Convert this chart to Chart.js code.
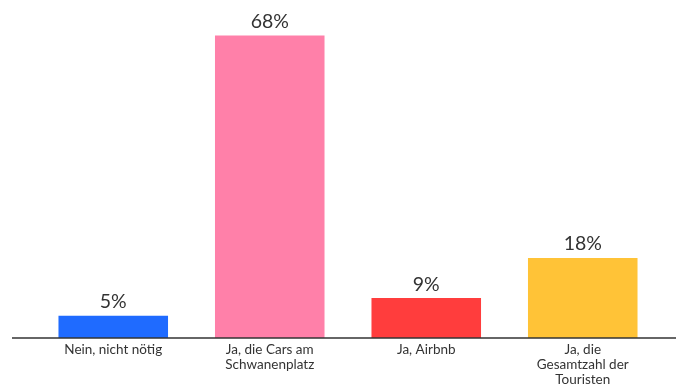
<!DOCTYPE html>
<html>
<head>
<meta charset="utf-8">
<script src="https://cdn.jsdelivr.net/npm/chart.js@4/dist/chart.umd.min.js"></script>
<style>
  body{margin:0;background:#fff;}
  #c{display:block;}
</style>
</head>
<body>
<canvas id="c" width="676" height="387"></canvas>
<script>
// data
const categories = [
  ["Nein, nicht nötig"],
  ["Ja, die Cars am", "Schwanenplatz"],
  ["Ja, Airbnb"],
  ["Ja, die", "Gesamtzahl der", "Touristen"]
];
const values = [5, 68, 9, 18];
const barColors = ["#1f6bff", "#ff80a9", "#ff3d3d", "#ffc337"];

// value labels above bars + long baseline
const valueLabels = {
  id: "valueLabels",
  afterDatasetsDraw(chart){
    const ctx = chart.ctx;
    const meta = chart.getDatasetMeta(0);
    ctx.save();
    ctx.fillStyle = "#333";
    ctx.font = "19.5px Lato";
    ctx.textAlign = "center";
    ctx.textBaseline = "bottom";
    meta.data.forEach((bar, i) => {
      ctx.fillText(values[i] + "%", bar.x, bar.y - 4);
    });
    const yb = chart.scales.y.getPixelForValue(0);
    ctx.strokeStyle = "#333";
    ctx.lineWidth = 1.5;
    ctx.beginPath();
    ctx.moveTo(12, yb);
    ctx.lineTo(chart.width, yb);
    ctx.stroke();
    ctx.restore();
  }
};

new Chart(document.getElementById("c"), {
  type: "bar",
  data: {
    labels: categories,
    datasets: [{
      data: values,
      backgroundColor: barColors,
      barPercentage: 0.7,
      categoryPercentage: 1
    }]
  },
  options: {
    responsive: false,
    devicePixelRatio: 1,
    animation: false,
    layout: {padding: {left: 35, right: 15, top: 0, bottom: 0}},
    plugins: {legend: {display: false}, tooltip: {enabled: false}},
    scales: {
      x: {
        grid: {display: false},
        border: {display: false},
        afterFit(scale){ scale.height = 49; },
        ticks: {
          color: "#333",
          font: {family: "Lato", size: 13.5, lineHeight: 1.12},
          maxRotation: 0,
          autoSkip: false,
          padding: -4
        }
      },
      y: {
        display: false,
        min: 0,
        max: 76
      }
    }
  },
  plugins: [valueLabels]
});
</script>
</body>
</html>
